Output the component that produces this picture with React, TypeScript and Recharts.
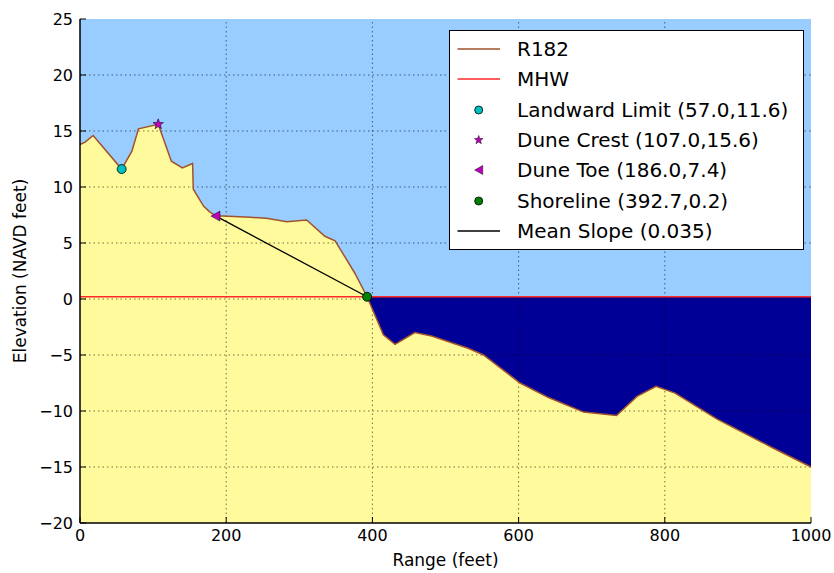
import React from 'react';
import {
  ComposedChart,
  Area,
  Line,
  Scatter,
  XAxis,
  YAxis,
  CartesianGrid,
  ReferenceLine,
  Legend,
} from 'recharts';

// profile R182
const rangeFt = [
  0, 7, 18, 57, 71, 80, 107, 125, 140, 154, 155, 169, 177, 186, 196, 233, 255, 283, 310, 335,
  349, 362, 376, 392.7, 415, 431, 458, 481, 531, 552, 602, 641, 689, 734, 762, 788, 814, 871,
  948, 1000,
];
const elevFt = [
  13.8, 14.0, 14.6, 11.6, 13.2, 15.2, 15.6, 12.3, 11.7, 12.1, 9.8, 8.3, 7.8, 7.4, 7.4, 7.3, 7.2,
  6.9, 7.05, 5.6, 5.2, 3.8, 2.3, 0.2, -3.2, -4.05, -3.0, -3.3, -4.4, -5.0, -7.5, -8.8, -10.1,
  -10.4, -8.7, -7.8, -8.4, -10.7, -13.3, -15.0,
];

const xTicks = [0, 200, 400, 600, 800, 1000];
const yTicks = [-20, -15, -10, -5, 0, 5, 10, 15, 20, 25];
const xGrid = [200, 400, 600, 800];
const yGrid = [-15, -10, -5, 0, 5, 10, 15, 20];

const mhw = 0.2;
const landwardLimit = [{ x: 57.0, y: 11.6 }];
const duneCrest = [{ x: 107.0, y: 15.6 }];
const duneToe = [{ x: 186.0, y: 7.4 }];
const shoreline = [{ x: 392.7, y: 0.2 }];
const meanSlope = [
  { x: 186.0, y: 7.4 },
  { x: 392.7, y: 0.2 },
];

const profile = rangeFt.map((x, i) => ({ x, elev: elevFt[i] }));
const water = profile
  .filter((p) => p.x >= shoreline[0].x)
  .map((p) => ({ x: p.x, water: [p.elev, mhw] }));

const font = '"DejaVu Sans", sans-serif';
const skyColor = '#99ccff';
const sandColor = '#fffb9c';
const waterColor = '#000096';
const profileColor = '#a0522d';
const mhwColor = '#ff2a2a';

const fmt = (v: number) => (v < 0 ? `\u2212${Math.abs(v)}` : String(v));

function circleShape(color: string, r: number) {
  return (props: any) => (
    <circle cx={props.cx} cy={props.cy} r={r} fill={color} stroke="#000" strokeWidth={0.8} />
  );
}

function starPoints(cx: number, cy: number, r: number) {
  const pts: string[] = [];
  for (let i = 0; i < 10; i++) {
    const rr = i % 2 === 0 ? r : r * 0.42;
    const a = -Math.PI / 2 + (i * Math.PI) / 5;
    pts.push(`${cx + rr * Math.cos(a)},${cy + rr * Math.sin(a)}`);
  }
  return pts.join(' ');
}

const starShape = (props: any) => (
  <polygon points={starPoints(props.cx, props.cy, 5.5)} fill="#bf00bf" stroke="#000" strokeWidth={0.5} />
);

const triShape = (props: any) => (
  <polygon
    points={`${props.cx - 5},${props.cy} ${props.cx + 4},${props.cy - 5} ${props.cx + 4},${props.cy + 5}`}
    fill="#bf00bf"
    stroke="#000"
    strokeWidth={0.5}
  />
);

const legendItems = [
  { name: 'R182', kind: 'line', color: profileColor },
  { name: 'MHW', kind: 'line', color: mhwColor },
  { name: 'Landward Limit (57.0,11.6)', kind: 'circle', color: '#00bfbf' },
  { name: 'Dune Crest (107.0,15.6)', kind: 'star', color: '#bf00bf' },
  { name: 'Dune Toe (186.0,7.4)', kind: 'tri', color: '#bf00bf' },
  { name: 'Shoreline (392.7,0.2)', kind: 'circle', color: '#008000' },
  { name: 'Mean Slope (0.035)', kind: 'line', color: '#000' },
];

function LegendBox() {
  return (
    <div
      style={{
        width: 355,
        height: 220,
        boxSizing: 'border-box',
        border: '1px solid #000',
        background: '#fff',
        fontFamily: font,
        fontSize: 20,
        color: '#000',
        paddingTop: 3,
      }}
    >
      {legendItems.map((item) => (
        <div key={item.name} style={{ height: 30.3, display: 'flex', alignItems: 'center' }}>
          <svg width={67} height={30} style={{ flex: 'none' }}>
            {item.kind === 'line' && (
              <line x1={7.5} x2={50} y1={15} y2={15} stroke={item.color} strokeWidth={1.5} />
            )}
            {item.kind === 'circle' && (
              <circle cx={28.7} cy={15} r={4} fill={item.color} stroke="#000" strokeWidth={0.8} />
            )}
            {item.kind === 'star' && (
              <polygon points={starPoints(28.7, 15, 4.5)} fill={item.color} stroke="#000" strokeWidth={0.5} />
            )}
            {item.kind === 'tri' && (
              <polygon points="24.7,15 32.7,10.5 32.7,19.5" fill={item.color} stroke="#000" strokeWidth={0.5} />
            )}
          </svg>
          <span style={{ whiteSpace: 'nowrap' }}>{item.name}</span>
        </div>
      ))}
    </div>
  );
}

const tickStyle = { fontSize: 16, fill: '#000', fontFamily: font };
const emptyTick = () => <g />;

export default function App() {
  return (
    <div style={{ position: 'absolute', left: 0, top: 0, width: 834, height: 573, background: '#fff' }}>
      <ComposedChart width={834} height={573} margin={{ top: 19, right: 23, bottom: 0, left: 0 }}>
        <CartesianGrid fill={skyColor} fillOpacity={1} horizontal={false} vertical={false} />
        <Area
          data={profile}
          dataKey="elev"
          type="linear"
          baseValue={-20}
          stroke="none"
          fill={sandColor}
          fillOpacity={1}
          isAnimationActive={false}
        />
        <Area
          data={water}
          dataKey="water"
          type="linear"
          stroke="none"
          fill={waterColor}
          fillOpacity={1}
          isAnimationActive={false}
        />
        {xGrid.map((v) => (
          <ReferenceLine key={`gx${v}`} x={v} stroke="#000" strokeOpacity={0.55} strokeDasharray="1.5 3" />
        ))}
        {yGrid.map((v) => (
          <ReferenceLine key={`gy${v}`} y={v} stroke="#000" strokeOpacity={0.55} strokeDasharray="1.5 3" />
        ))}
        <ReferenceLine y={mhw} stroke={mhwColor} strokeWidth={1.5} />
        <Line
          data={profile}
          dataKey="elev"
          type="linear"
          stroke={profileColor}
          strokeWidth={1.5}
          dot={false}
          isAnimationActive={false}
        />
        <Line
          data={meanSlope}
          dataKey="y"
          type="linear"
          stroke="#000"
          strokeWidth={1.3}
          dot={false}
          isAnimationActive={false}
        />
        <Scatter data={landwardLimit} dataKey="y" shape={circleShape('#00bfbf', 4.5)} isAnimationActive={false} />
        <Scatter data={duneCrest} dataKey="y" shape={starShape} isAnimationActive={false} />
        <Scatter data={duneToe} dataKey="y" shape={triShape} isAnimationActive={false} />
        <Scatter data={shoreline} dataKey="y" shape={circleShape('#008000', 4.5)} isAnimationActive={false} />
        <Legend
          layout="vertical"
          align="center"
          verticalAlign="middle"
          content={() => <LegendBox />}
          wrapperStyle={{ left: 449, top: 30, width: 355, height: 220 }}
        />
        <XAxis
          dataKey="x"
          type="number"
          domain={[0, 1000]}
          ticks={xTicks}
          tickFormatter={fmt}
          tick={tickStyle}
          tickSize={-6}
          tickMargin={13}
          height={50}
          stroke="#000"
          axisLine={{ stroke: '#000', strokeWidth: 1.5 }}
          tickLine={{ stroke: '#000' }}
          label={{ value: 'Range (feet)', position: 'insideBottom', offset: 7, fontSize: 17, fill: '#000', fontFamily: font }}
        />
        <XAxis
          xAxisId="top"
          orientation="top"
          type="number"
          domain={[0, 1000]}
          ticks={xTicks}
          tick={emptyTick}
          tickSize={-6}
          height={0}
          axisLine={{ stroke: '#000', strokeWidth: 1.5 }}
          tickLine={{ stroke: '#000' }}
        />
        <YAxis
          type="number"
          domain={[-20, 25]}
          ticks={yTicks}
          tickFormatter={fmt}
          tick={tickStyle}
          tickSize={-6}
          tickMargin={13}
          width={80}
          axisLine={{ stroke: '#000', strokeWidth: 1.5 }}
          tickLine={{ stroke: '#000' }}
          label={{
            value: 'Elevation (NAVD feet)',
            position: 'insideLeft',
            angle: -90,
            offset: 20,
            fontSize: 17,
            fill: '#000',
            fontFamily: font,
            style: { textAnchor: 'middle' },
          }}
        />
        <YAxis
          yAxisId="right"
          orientation="right"
          type="number"
          domain={[-20, 25]}
          ticks={yTicks}
          tick={emptyTick}
          tickSize={-6}
          width={0}
          axisLine={{ stroke: '#000', strokeWidth: 1.5 }}
          tickLine={{ stroke: '#000' }}
        />
      </ComposedChart>
    </div>
  );
}
